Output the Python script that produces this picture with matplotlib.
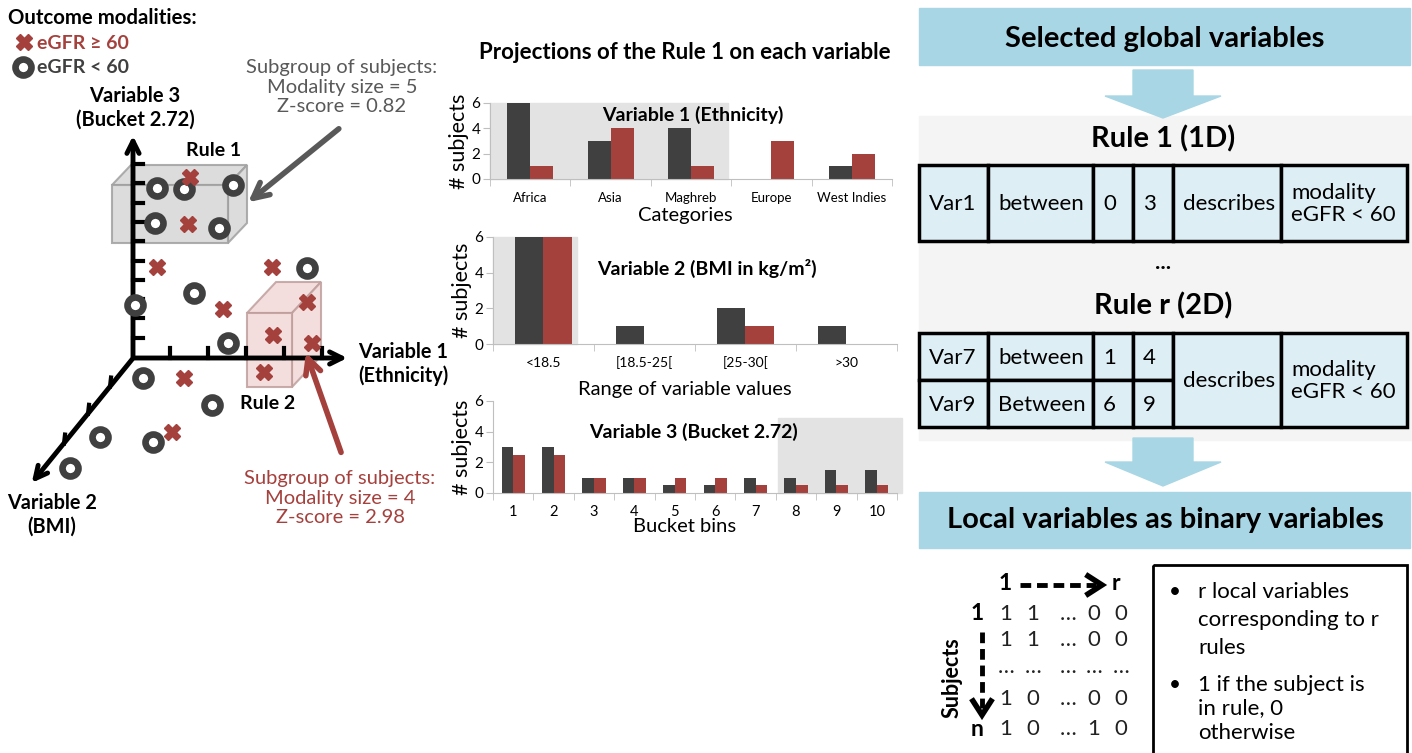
import numpy as np
import matplotlib
matplotlib.use("Agg")
import matplotlib.pyplot as plt
from matplotlib.patches import Rectangle, Polygon

plt.rcParams['font.family'] = ['Lato', 'DejaVu Sans']

W, H = 1412, 753

# bar chart data (# subjects): dark = eGFR < 60, red = eGFR >= 60
ethnicity = ['Africa', 'Asia', 'Maghreb', 'Europe', 'West Indies']
eth_low = [6, 3, 4, 0, 1]
eth_high = [1, 4, 1, 3, 2]

bmi_ranges = ['<18.5', '[18.5-25[', '[25-30[', '>30']
bmi_low = [6, 1, 2, 1]
bmi_high = [6, 0, 1, 0]

bucket_bins = ['1', '2', '3', '4', '5', '6', '7', '8', '9', '10']
bucket_low = [3, 3, 1, 1, 0.5, 0.5, 1, 1, 1.5, 1.5]
bucket_high = [2.5, 2.5, 1, 1, 1, 1, 0.5, 0.5, 0.5, 0.5]

# schematic 3D scatter, subjects in drawing coordinates
ring_x = [157, 184, 233, 155, 219, 307, 194, 135, 228, 143, 212, 100, 153, 70]
ring_y = [188, 189, 185, 223, 228, 268, 293, 305, 343, 378, 405, 437, 442, 468]
cross_x = [190, 188, 157, 272, 223, 307, 273, 312, 264, 184, 172]
cross_y = [177, 224, 267, 267, 309, 302, 335, 343, 372, 378, 432]

# rules tables
rule1_cells = ['Var1', 'between', '0', '3', 'describes', 'modality\neGFR < 60']
ruler_cells = [['Var7', 'between', '1', '4'], ['Var9', 'Between', '6', '9']]
ruler_tail = ['describes', 'modality\neGFR < 60']

# binary matrix of local variables
row_names = ['1', '', '', '', 'n']
matrix = [['1', '1', '…', '0', '0'],
          ['1', '1', '…', '0', '0'],
          ['…', '…', '…', '…', '…'],
          ['1', '0', '…', '0', '0'],
          ['1', '0', '…', '1', '0']]
bullets = [['r local variables', 'corresponding to r', 'rules'],
           ['1 if the subject is', 'in rule, 0', 'otherwise']]

DARK = '#404040'
RED = '#a5413d'
GRAYTXT = '#595959'
BLUE = '#a8d6e5'
CELL = '#deeef5'

fig = plt.figure(figsize=(W / 100, H / 100), dpi=100)
ax = fig.add_axes([0, 0, 1, 1])
ax.set_xlim(0, W)
ax.set_ylim(H, 0)
ax.axis('off')

# ---------------- left panel ----------------
ax.text(8, 18, 'Outcome modalities:', fontsize=14.7, fontweight='bold', va='center')
ax.plot(24, 42, marker='X', ms=12, color=RED, mec=RED, ls='none')
ax.text(37, 43, 'eGFR ≥ 60', fontsize=14, fontweight='bold', color=RED, va='center')
ax.plot(23, 67, marker='o', ms=11.5, mfc='white', mec=DARK, mew=4.8, ls='none')
ax.text(37, 67, 'eGFR < 60', fontsize=14, fontweight='bold', color=DARK, va='center')

ax.text(135, 108, 'Variable 3\n(Bucket 2.72)', fontsize=14.5, fontweight='bold',
        ha='center', va='center', linespacing=1.2)
ax.text(342, 87, 'Subgroup of subjects:\nModality size = 5\nZ-score = 0.82', fontsize=14.5,
        color=GRAYTXT, ha='center', va='center', linespacing=1.15)

# axes of the 3D sketch
ox, oy = 133, 358
ax.annotate('', xy=(ox, 133), xytext=(ox, oy + 2),
            arrowprops=dict(arrowstyle='->', lw=3.5, color='black', mutation_scale=22))
ax.annotate('', xy=(350, oy), xytext=(ox - 2, oy),
            arrowprops=dict(arrowstyle='->', lw=3.5, color='black', mutation_scale=22))
ax.annotate('', xy=(30, 485), xytext=(ox + 1, oy - 1),
            arrowprops=dict(arrowstyle='->', lw=3.5, color='black', mutation_scale=22))
for k in range(10):
    ty = 164 + 19.3 * k
    ax.plot([ox, ox + 10], [ty, ty], color='black', lw=3)
for tx in [170, 208, 246, 284, 322]:
    ax.plot([tx, tx], [oy, oy - 10], color='black', lw=3)
for t in [0.23, 0.45, 0.69]:
    px, py = ox - 100 * t, oy + 124 * t
    ax.plot([px, px + 1], [py, py - 9], color='black', lw=3)


# rule boxes (drawn under the axes lines)
def box3d(x0, y0, x1, y1, dx, dy, face, edge):
    front = Polygon([(x0, y0), (x1, y0), (x1, y1), (x0, y1)], closed=True)
    top = Polygon([(x0, y0), (x1, y0), (x1 + dx, y0 + dy), (x0 + dx, y0 + dy)], closed=True)
    side = Polygon([(x1, y0), (x1 + dx, y0 + dy), (x1 + dx, y1 + dy), (x1, y1)], closed=True)
    for p in (top, side, front):
        p.set_facecolor(face)
        p.set_edgecolor(edge)
        p.set_alpha(0.85)
        p.set_linewidth(1.5)
        p.set_zorder(1)
        ax.add_patch(p)


box3d(112, 185, 228, 243, 19, -20, '#d6d6d6', '#a0a0a0')
box3d(247, 313, 292, 387, 29, -31, '#f3d9d7', '#bf9f9d')
ax.text(214, 150, 'Rule 1', fontsize=14, fontweight='bold', ha='center', va='center')
ax.text(268, 403, 'Rule 2', fontsize=14, fontweight='bold', ha='center', va='center')

ax.plot(ring_x, ring_y, marker='o', ms=11.5, mfc='white', mec=DARK, mew=4.8, ls='none', zorder=5)
ax.plot(cross_x, cross_y, marker='X', ms=12, color=RED, mec=RED, ls='none', zorder=5)

ax.annotate('', xy=(246, 204), xytext=(341, 127),
            arrowprops=dict(arrowstyle='->', lw=4, color=GRAYTXT, mutation_scale=28), zorder=6)
ax.annotate('', xy=(305, 350), xytext=(342, 455),
            arrowprops=dict(arrowstyle='->', lw=4, color=RED, mutation_scale=28), zorder=6)

ax.text(403, 364, 'Variable 1\n(Ethnicity)', fontsize=14.3, fontweight='bold',
        ha='center', va='center', linespacing=1.2)
ax.text(52, 515, 'Variable 2\n(BMI)', fontsize=14.3, fontweight='bold',
        ha='center', va='center', linespacing=1.2)
ax.text(340, 498, 'Subgroup of subjects:\nModality size = 4\nZ-score = 2.98', fontsize=14.5,
        color=RED, ha='center', va='center', linespacing=1.15)

# ---------------- middle panel: projections ----------------
ax.text(685, 52, 'Projections of the Rule 1 on each variable', fontsize=16,
        fontweight='bold', ha='center', va='center')


def bar_axes(left, right, top, bottom):
    a = fig.add_axes([left / W, 1 - bottom / H, (right - left) / W, (bottom - top) / H])
    a.set_facecolor('none')
    return a


def draw_bars(a, labels, low, high, shade, xfs, title, tx, ty, xlabel, xly, box):
    left, right, top_px, bot_px = box
    n = len(labels)
    x = np.arange(n)
    w = 0.285
    a.add_patch(Rectangle((shade[0], 0), shade[1] - shade[0], shade[2],
                          color='#e3e3e3', zorder=0, clip_on=False))
    a.bar(x - w / 2, low, w, color=DARK, zorder=2)
    a.bar(x + w / 2, high, w, color=RED, zorder=2)
    a.set_xlim(-0.5, n - 0.5)
    a.set_ylim(0, 6)
    a.set_yticks([0, 2, 4, 6])
    a.set_xticks(x, labels, fontsize=xfs)
    a.set_xticks(np.arange(n + 1) - 0.5, minor=True)
    a.tick_params(axis='x', which='major', length=0, pad=9)
    a.tick_params(axis='x', which='minor', length=5, color='#bfbfbf')
    a.tick_params(axis='y', length=5, color='#bfbfbf', labelsize=11, pad=2)
    for s in ['top', 'right']:
        a.spines[s].set_visible(False)
    a.spines['left'].set_color('#bfbfbf')
    a.spines['bottom'].set_color('#bfbfbf')
    a.set_ylabel('# subjects', fontsize=15.5, va='center')
    a.yaxis.set_label_coords(-31 / (right - left), 0.5)
    a.set_xlabel(xlabel, fontsize=14.5, va='center')
    a.xaxis.set_label_coords((685 - left) / (right - left), -(xly - bot_px) / (bot_px - top_px))
    a.text(tx, ty, title, fontsize=14, fontweight='bold', ha='center', va='center',
           transform=ax.transData, zorder=10)


a1 = bar_axes(490, 892, 103, 179)
draw_bars(a1, ethnicity, eth_low, eth_high, (-0.5, 2.46, 6), 9.5,
          'Variable 1 (Ethnicity)', 693, 115, 'Categories', 215, (490, 892, 103, 179))
a2 = bar_axes(493, 897, 237, 344)
draw_bars(a2, bmi_ranges, bmi_low, bmi_high, (-0.5, 0.33, 6), 10,
          'Variable 2 (BMI in kg/m²)', 707, 268, 'Range of variable values', 389,
          (493, 897, 237, 344))
a3 = bar_axes(493, 897, 401, 493)
draw_bars(a3, bucket_bins, bucket_low, bucket_high, (6.55, 9.62, 4.9), 10.5,
          'Variable 3 (Bucket 2.72)', 693, 432, 'Bucket bins', 527, (493, 897, 401, 493))

# ---------------- right panel ----------------
ax.add_patch(Rectangle((919, 116), 493, 324, color='#f4f4f4', zorder=0))
ax.add_patch(Rectangle((919, 8), 491, 57, color=BLUE, zorder=1))
ax.text(1165, 39, 'Selected global variables', fontsize=21, fontweight='bold',
        ha='center', va='center', zorder=2)
ax.add_patch(Rectangle((919, 492), 491, 56, color=BLUE, zorder=1))
ax.text(1165, 520, 'Local variables as binary variables', fontsize=21, fontweight='bold',
        ha='center', va='center', zorder=2)


def block_arrow(cx, y0, y1, y2):
    pts = [(cx - 30, y0), (cx + 30, y0), (cx + 30, y1), (cx + 58, y1),
           (cx, y2), (cx - 58, y1), (cx - 30, y1)]
    ax.add_patch(Polygon(pts, closed=True, color=BLUE, zorder=2))


block_arrow(1163, 70, 96, 118)
block_arrow(1163, 438, 462, 486)

ax.text(1163, 139, 'Rule 1 (1D)', fontsize=21, fontweight='bold', ha='center', va='center')
ax.text(1163, 262, '...', fontsize=16, fontweight='bold', ha='center', va='center')
ax.text(1163, 306, 'Rule r (2D)', fontsize=21, fontweight='bold', ha='center', va='center')

cols = [919, 988, 1093, 1133, 1173, 1281, 1407]


def cell(x0, x1, y0, y1, txt):
    ax.add_patch(Rectangle((x0, y0), x1 - x0, y1 - y0, facecolor=CELL, edgecolor='black',
                           lw=2.5, zorder=3))
    ax.text(x0 + 10, (y0 + y1) / 2 + 1, txt, fontsize=16, va='center', ha='left',
            linespacing=1.15, zorder=4)


for i, txt in enumerate(rule1_cells):
    cell(cols[i], cols[i + 1], 165, 241, txt)

for r, row in enumerate(ruler_cells):
    ya, yb = 333 + 47 * r, 380 + 47 * r
    for i, txt in enumerate(row):
        cell(cols[i], cols[i + 1], ya, yb, txt)
for j, txt in enumerate(ruler_tail):
    cell(cols[4 + j], cols[5 + j], 333, 427, txt)

# binary matrix
mat_x = [1006, 1033, 1068, 1094, 1121]
mat_y = [614, 640, 667, 699, 729]
ax.text(1005, 584, '1', fontsize=16.5, fontweight='bold', ha='center', va='center')
ax.text(1116, 584, 'r', fontsize=16.5, fontweight='bold', ha='center', va='center')
ax.plot([1020, 1096], [585, 585], color='black', lw=3.5, ls=(0, (2.2, 1.2)))
ax.plot([1088, 1102, 1088], [576, 585, 594], color='black', lw=4, solid_joinstyle='miter')
ax.plot([982, 982], [632, 708], color='black', lw=3.5, ls=(0, (2.2, 1.2)))
ax.plot([973, 982, 991], [701, 715, 701], color='black', lw=4, solid_joinstyle='miter')
ax.text(952, 678, 'Subjects', fontsize=15.5, fontweight='bold', rotation=90,
        ha='center', va='center')
for r, row in enumerate(matrix):
    if row_names[r]:
        ax.text(977, mat_y[r], row_names[r], fontsize=16.5, fontweight='bold',
                ha='center', va='center')
    for c, v in enumerate(row):
        ax.text(mat_x[c], mat_y[r], v, fontsize=16, ha='center', va='center',
                color='#222222')

ax.add_patch(Rectangle((1153, 565), 254, 210, facecolor='none', edgecolor='black', lw=2))
line_y = [[592, 620, 648], [685, 708, 733]]
for b, lines in enumerate(bullets):
    ax.text(1175, line_y[b][0], '•', fontsize=15, ha='center', va='center')
    for k, ln in enumerate(lines):
        ax.text(1198, line_y[b][k], ln, fontsize=16, ha='left', va='center')

fig.savefig('out.png', dpi=100)
